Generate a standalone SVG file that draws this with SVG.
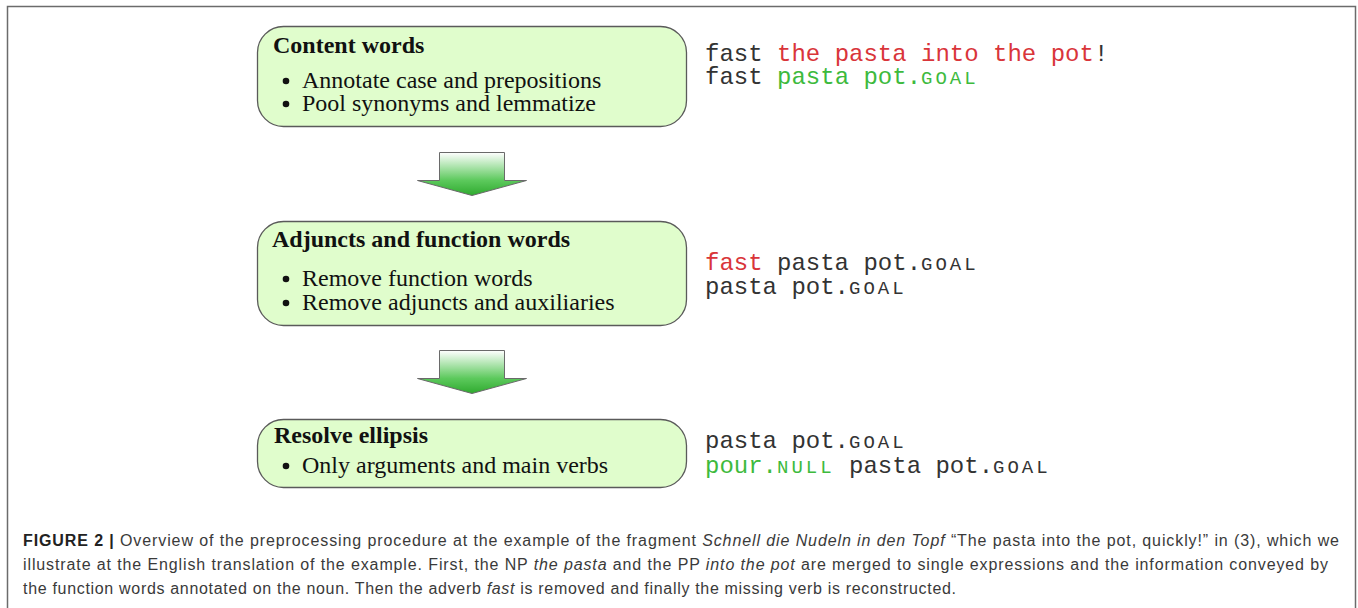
<svg xmlns="http://www.w3.org/2000/svg" width="1358" height="608" viewBox="0 0 1358 608">
  <style>
    .box { fill: #e0fdcc; stroke: #5a5a5a; stroke-width: 1.3; }
    .title { font-family: "Liberation Serif", "Times New Roman", serif; font-size: 24px; font-weight: bold; fill: #111; }
    .item { font-family: "Liberation Serif", "Times New Roman", serif; font-size: 24px; fill: #111; }
    .dot { fill: #111; }
    .mono { font-family: "Liberation Mono", "Courier New", monospace; font-size: 24px; fill: #333; }
    .sc { font-size: 19px; letter-spacing: 3px; }
    .red { fill: #d9353a; }
    .green { fill: #3dba3d; }
    .arrow { fill: url(#arrowFill); stroke: #6a6a6a; stroke-width: 1; }
    .cap { font-family: "Liberation Sans", Arial, sans-serif; font-size: 16px; fill: #3a3a3a; }
    .capb { font-weight: bold; fill: #222; }
  </style>
  <defs>
    <linearGradient id="arrowFill" x1="0" y1="0" x2="0" y2="1">
      <stop offset="0" stop-color="#ffffff"/>
      <stop offset="0.65" stop-color="#5cc95c"/>
      <stop offset="1" stop-color="#2faa2f"/>
    </linearGradient>
  </defs>

  <rect width="1358" height="608" fill="#ffffff"/>
  <!-- figure frame (open at the bottom) -->
  <path d="M7.5 608 V6.5 H1355.5 V608" fill="none" stroke="#6b6b6b" stroke-width="1.5"/>

  <!-- step 1 -->
  <g id="content-words">
    <rect class="box" x="257.5" y="26.5" width="429" height="100" rx="26" ry="26"/>
    <text class="title" x="273" y="53">Content words</text>
    <circle class="dot" cx="286" cy="81" r="3.3"/>
    <circle class="dot" cx="286" cy="104" r="3.3"/>
    <text class="item" x="302" y="88">Annotate case and prepositions</text>
    <text class="item" x="302" y="111">Pool synonyms and lemmatize</text>
  </g>
  <g id="example-1">
    <text class="mono" x="705" y="61">fast <tspan class="red">the pasta into the pot</tspan>!</text>
    <text class="mono" x="705" y="84">fast <tspan class="green">pasta pot.<tspan class="sc">GOAL</tspan></tspan></text>
  </g>

  <!-- step 2 -->
  <g id="adjuncts-function-words">
    <rect class="box" x="257.5" y="221.5" width="429" height="104" rx="26" ry="26"/>
    <text class="title" x="272" y="247">Adjuncts and function words</text>
    <circle class="dot" cx="286" cy="279" r="3.3"/>
    <circle class="dot" cx="286" cy="303" r="3.3"/>
    <text class="item" x="302" y="286">Remove function words</text>
    <text class="item" x="302" y="310">Remove adjuncts and auxiliaries</text>
  </g>
  <g id="example-2">
    <text class="mono" x="705" y="270"><tspan class="red">fast</tspan> pasta pot.<tspan class="sc">GOAL</tspan></text>
    <text class="mono" x="705" y="294">pasta pot.<tspan class="sc">GOAL</tspan></text>
  </g>

  <!-- step 3 -->
  <g id="resolve-ellipsis">
    <rect class="box" x="257.5" y="419.5" width="429" height="68" rx="26" ry="26"/>
    <text class="title" x="274" y="443">Resolve ellipsis</text>
    <circle class="dot" cx="286" cy="466" r="3.3"/>
    <text class="item" x="302" y="473">Only arguments and main verbs</text>
  </g>
  <g id="example-3">
    <text class="mono" x="705" y="448">pasta pot.<tspan class="sc">GOAL</tspan></text>
    <text class="mono" x="705" y="473"><tspan class="green">pour.<tspan class="sc">NULL</tspan></tspan> pasta pot.<tspan class="sc">GOAL</tspan></text>
  </g>

  <!-- block arrows between the steps -->
  <g id="connectors">
    <path class="arrow" d="M439.5 152.5 H504.5 V180.5 H526.5 L472 195.5 L417.5 180.5 H439.5 Z"/>
    <path class="arrow" d="M439.5 350.5 H504.5 V378.5 H526.5 L472 393.5 L417.5 378.5 H439.5 Z"/>
  </g>

  <!-- caption -->
  <g id="caption">
    <text class="cap" x="23" y="546" textLength="1316" lengthAdjust="spacing"><tspan class="capb">FIGURE 2 |</tspan> Overview of the preprocessing procedure at the example of the fragment <tspan font-style="italic">Schnell die Nudeln in den Topf</tspan> “The pasta into the pot, quickly!” in (3), which we</text>
    <text class="cap" x="23" y="570" textLength="1305" lengthAdjust="spacing">illustrate at the English translation of the example. First, the NP <tspan font-style="italic">the pasta</tspan> and the PP <tspan font-style="italic">into the pot</tspan> are merged to single expressions and the information conveyed by</text>
    <text class="cap" x="23" y="594" textLength="933" lengthAdjust="spacing">the function words annotated on the noun. Then the adverb <tspan font-style="italic">fast</tspan> is removed and finally the missing verb is reconstructed.</text>
  </g>
</svg>
